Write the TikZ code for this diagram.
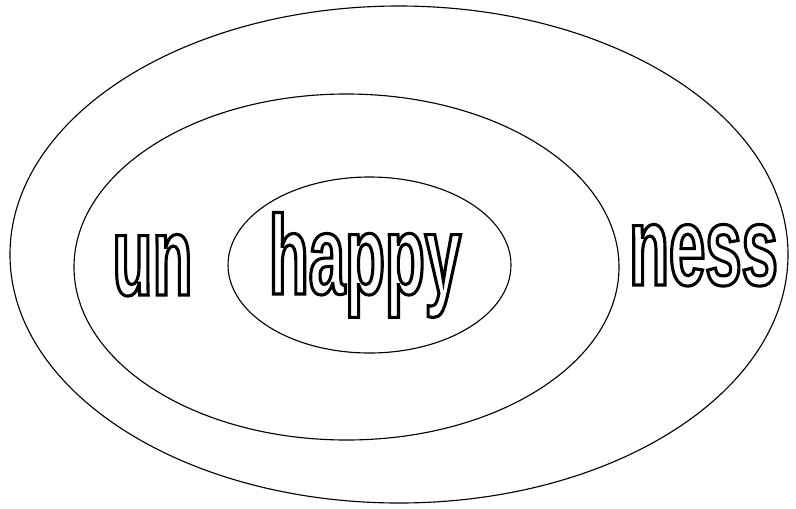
\documentclass[tikz,border=0pt]{standalone}
\usepackage{fontspec}
\newfontfamily\wordfont[FakeStretch=0.58]{Liberation Sans}
\newcommand{\hollow}[1]{\special{pdf:literal 1 Tr 2.2 w}#1\special{pdf:literal 0 Tr}}

\begin{document}
\begin{tikzpicture}[x=.025cm,y=-.025cm,
 ring/.style={line width=.8pt},
 word/.style={anchor=base,inner sep=0pt,font=\wordfont\bfseries\fontsize{80}{80}\selectfont}]
\useasboundingbox (0,0) rectangle (796,508);
% rings, outer to inner
\draw[ring] (399,254.5) ellipse (389 and 248.5);
\draw[ring] (346.5,267) ellipse (272.5 and 173);
\draw[ring] (369.5,265) ellipse (141.5 and 88);
% words
\node[word] (happy) at (365,294) {\hollow{happy}};
\node[word] (un) at (152.5,295) {\hollow{un}};
\node[word] (ness) at (703.5,285) {\hollow{ness}};
\end{tikzpicture}
\end{document}
